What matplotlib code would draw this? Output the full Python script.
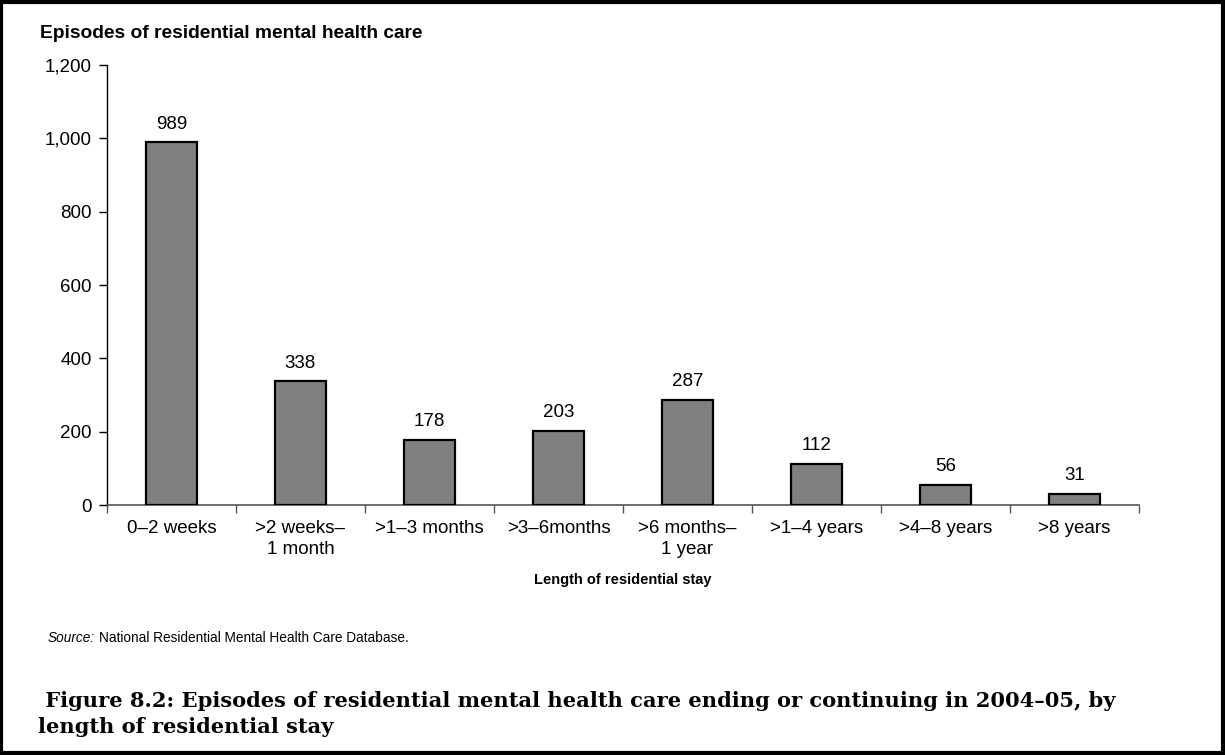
import matplotlib
matplotlib.use("Agg")
import matplotlib.pyplot as plt
from matplotlib.patches import Rectangle

# data
categories = ["0\u20132 weeks", ">2 weeks\u2013\n1 month", ">1\u20133 months", ">3\u20136months",
              ">6 months\u2013\n1 year", ">1\u20134 years", ">4\u20138 years", ">8 years"]
episodes = [989, 338, 178, 203, 287, 112, 56, 31]
y_ticks = [0, 200, 400, 600, 800, 1000, 1200]

plt.rcParams["font.family"] = ["Liberation Sans", "DejaVu Sans"]

fig = plt.figure(figsize=(12.25, 7.55), dpi=100)
ax = fig.add_axes([0.0873, 0.331, 0.8425, 0.583])

x = list(range(len(categories)))
ax.bar(x, episodes, width=0.4, color="#808080", edgecolor="black", linewidth=1.6, zorder=3)
for xi, v in zip(x, episodes):
    ax.text(xi, v + 37, str(v), ha="center", va="baseline", fontsize=13.5)

ax.set_xlim(-0.5, len(categories) - 0.5)
ax.set_ylim(0, 1200)
ax.set_yticks(y_ticks)
ax.set_yticklabels([f"{t:,}" for t in y_ticks], fontsize=13.5)

# category labels sit between boundary ticks
ax.set_xticks([i - 0.5 for i in range(len(categories) + 1)])
ax.set_xticklabels([])
ax.set_xticks(x, minor=True)
ax.set_xticklabels(categories, minor=True, fontsize=13.5, linespacing=1.25)
ax.tick_params(axis="x", which="minor", length=0, pad=11)
ax.tick_params(axis="x", which="major", length=6, width=1, color="#555555", direction="out")
ax.tick_params(axis="y", length=6, width=1, direction="out", pad=5)

for side in ("top", "right"):
    ax.spines[side].set_visible(False)
ax.spines["left"].set_color("black")
ax.spines["left"].set_linewidth(1)
ax.spines["bottom"].set_color("#555555")
ax.spines["bottom"].set_linewidth(1.2)

ax.set_xlabel("Length of residential stay", fontsize=10.5, fontweight="bold", labelpad=11)

fig.text(0.033, 0.955, "Episodes of residential mental health care",
         fontsize=13.8, fontweight="bold", va="center")

# source line: italic "Source:" followed by plain text
src_y = 0.155
src = fig.text(0.039, src_y, "Source:", fontsize=9.8, style="italic", va="center")
fig.canvas.draw()
bb = src.get_window_extent()
fig.text(bb.x1 / fig.bbox.width + 0.003, src_y, "National Residential Mental Health Care Database.",
         fontsize=9.8, va="center")

fig.text(0.031, 0.054,
         " Figure 8.2: Episodes of residential mental health care ending or continuing in 2004\u201305, by\n"
         "length of residential stay",
         fontsize=15.1, fontweight="bold", family=["DejaVu Serif"], va="center", linespacing=1.4)

fig.add_artist(Rectangle((0.001, 0.002), 0.997, 0.996, transform=fig.transFigure,
                         fill=False, edgecolor="black", linewidth=3))

fig.savefig("out.png", dpi=100)
